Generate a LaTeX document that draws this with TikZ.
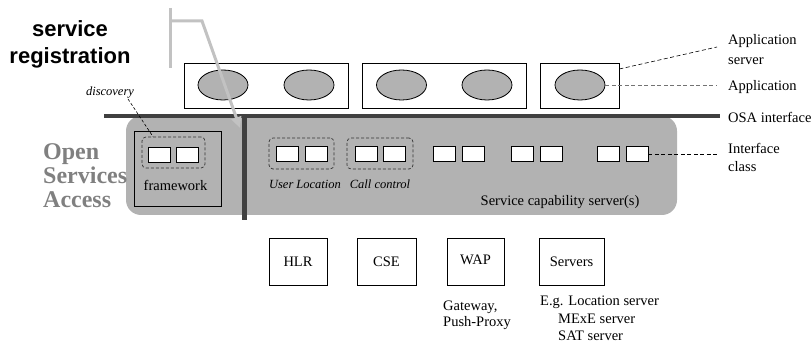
\documentclass[tikz,border=0pt]{standalone}
\usepackage{fontspec}
\setmainfont{Liberation Serif}
\setsansfont{Liberation Sans}
\usetikzlibrary{shapes.geometric,arrows.meta}
\definecolor{panel}{gray}{0.70}
\definecolor{bar}{gray}{0.25}
\definecolor{osatext}{gray}{0.50}
\definecolor{regline}{gray}{0.76}
\begin{document}
\begin{tikzpicture}[x=1pt,y=-1pt,
  appbox/.style={draw,line width=0.8pt,minimum height=45pt,inner sep=0pt},
  app/.style={ellipse,draw,line width=0.8pt,fill=panel,minimum width=50pt,minimum height=30pt,inner sep=0pt},
  ifc/.style={draw,line width=0.8pt,fill=white,minimum width=22pt,minimum height=15pt,inner sep=0pt},
  grp/.style={draw=black!80,dash pattern=on 3pt off 2pt,line width=0.7pt,rounded corners=4pt,minimum height=31pt,inner sep=0pt},
  netbox/.style={draw,line width=0.8pt,minimum height=47pt,inner sep=0pt,font=\fontsize{14.5}{17}\selectfont},
  lbl/.style={inner sep=0pt,anchor=west,align=left,font=\fontsize{14.5}{17}\selectfont},
  ital/.style={inner sep=0pt,font=\fontsize{12.5}{15}\selectfont\itshape},
  leader/.style={dash pattern=on 4pt off 2.5pt,line width=0.6pt},
]
\useasboundingbox (0,0) rectangle (812,344);

% service capability panel
\node[fill=panel,rounded corners=15pt,minimum width=551pt,minimum height=99pt,inner sep=0pt] (scs) at (401.5,165.5) {};

% OSA interface bar and divider
\coordinate (osaL) at (104,116);
\coordinate (osaR) at (720,116);
\draw[bar,line width=4.5pt] (osaL) -- (osaR);
\coordinate (divT) at (244,116);
\coordinate (divB) at (244,220);
\draw[bar,line width=5pt] (divT) -- (divB);

% application servers
\node[appbox,minimum width=164pt] (as1) at (266,85.5) {};
\node[appbox,minimum width=164pt] (as2) at (444,85.5) {};
\node[appbox,minimum width=79pt] (as3) at (579.5,85.5) {};
\node[app] (a1) at (223,85) {};
\node[app] (a2) at (309,85) {};
\node[app] (a3) at (401.5,85) {};
\node[app] (a4) at (487,85) {};
\node[app] (a5) at (580,85) {};

% framework
\node[draw,line width=0.8pt,minimum width=87pt,minimum height=75pt,inner sep=0pt] (fw) at (177.5,168.5) {};
\node[inner sep=0pt,font=\fontsize{14.5}{17}\selectfont] (fwt) at (175.5,185) {framework};
\node[grp,minimum width=63pt] (disc) at (173.5,152.5) {};
\node[ifc] (d1) at (159,154.5) {};
\node[ifc] (d2) at (187.5,154.5) {};
\node[ital] (disct) at (110,93) {discovery};
\draw[leader,dash pattern=on 3pt off 2pt] (128,99) -- (disc.north west -| 153,0) ;

% interface classes of the service capability servers
\node[grp,minimum width=65pt] (ulg) at (301.5,153.5) {};
\node[ifc] (ul1) at (287,154) {};
\node[ifc] (ul2) at (316,154) {};
\node[grp,minimum width=66pt] (ccg) at (380,153.5) {};
\node[ifc] (cc1) at (366,154) {};
\node[ifc] (cc2) at (394.5,154) {};
\node[ifc] (p31) at (444,154) {};
\node[ifc] (p32) at (473,154) {};
\node[ifc] (p41) at (522.5,154) {};
\node[ifc] (p42) at (551.5,154) {};
\node[ifc] (p51) at (608,154) {};
\node[ifc] (p52) at (637,154) {};
\node[ital] at (305,184) {User Location};
\node[ital] at (380,184) {Call control};
\node[inner sep=0pt,font=\fontsize{14.5}{17}\selectfont] (scst) at (560,202) {Service capability server(s)};

% Open Services Access title
\node[inner sep=0pt,anchor=west,align=left,text=osatext,font=\fontsize{24}{24}\selectfont\bfseries] (osa) at (43,176) {Open\\Services\\Access};

% service registration
\node[inner sep=0pt,align=center,font=\fontsize{22}{27}\sffamily\bfseries] (reg) at (70,44) {service\\registration};
\coordinate (rTop) at (170,8);
\coordinate (rBot) at (170,68);
\coordinate (rJoin) at (170,21);
\coordinate (rBend) at (202,21);
\coordinate (rTip) at (240,128);
\draw[regline,line width=3pt] (rTop) -- (rBot);
\draw[regline,line width=3pt,-{Triangle[length=11pt,width=10pt,fill=regline]}] (rJoin) -- (rBend) -- (rTip);

% legend on the right
\node[lbl,font=\fontsize{14.5}{20}\selectfont] (lAS) at (728,50) {Application\\server};
\node[lbl] (lApp) at (728,87) {Application};
\node[lbl] (lOSA) at (728,117) {OSA interface};
\node[lbl,font=\fontsize{14.5}{18}\selectfont] (lIfc) at (728,157) {Interface\\class};
\coordinate (lASe) at (717,47);
\coordinate (lAppe) at (717,85);
\coordinate (lIfce) at (717,154);
\draw[leader] (as3.north east |- 0,69) -- (lASe);
\draw[leader,draw=black!55] (a5.east) -- (lAppe);
\draw[leader] (p52.east) -- (lIfce);

% network elements
\node[netbox,minimum width=58pt] (hlr) at (298,261.5) {HLR};
\node[netbox,minimum width=59pt] (cse) at (386.5,261.5) {CSE};
\node[netbox,minimum width=57pt] (wap) at (475.5,261.5) {\raisebox{3pt}{WAP}};
\node[netbox,minimum width=65pt] (srv) at (571.5,261.5) {Servers};
\node[lbl,font=\fontsize{14.5}{15.5}\selectfont] (wapt) at (443,315.5) {Gateway,\\Push-Proxy};
\node[lbl] (srv1) at (540,302) {E.g. Location server};
\node[lbl] (srv2) at (558,318.5) {MExE server};
\node[lbl] (srv3) at (558,335.5) {SAT server};
\end{tikzpicture}
\end{document}
